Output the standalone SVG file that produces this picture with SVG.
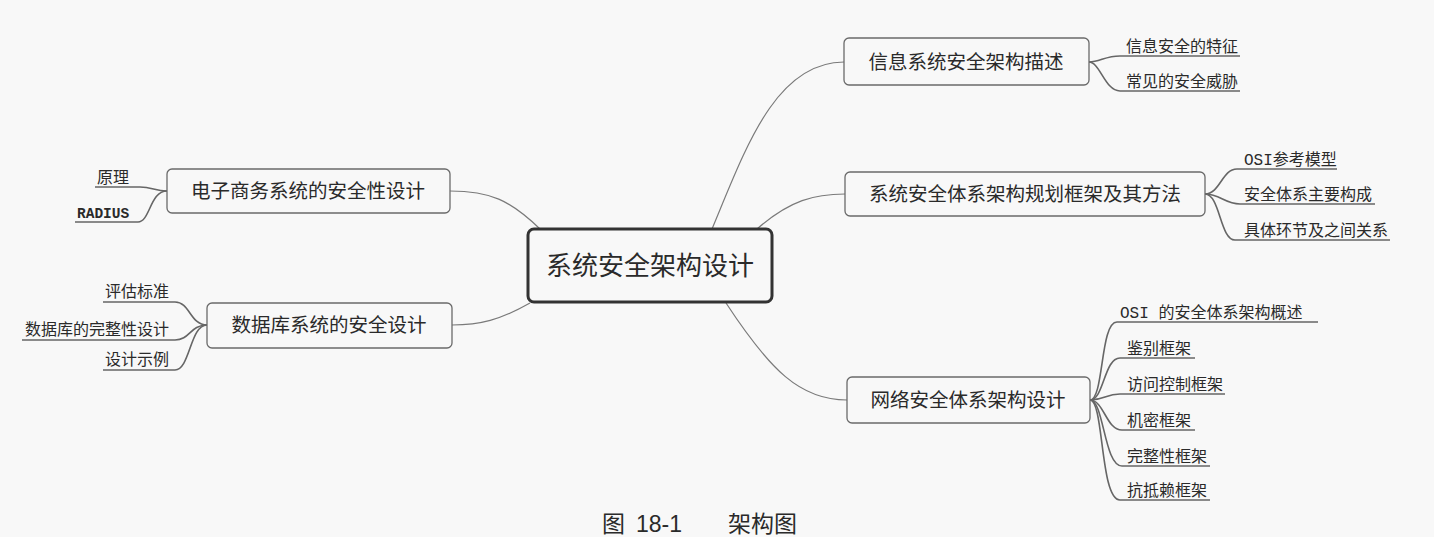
<svg xmlns="http://www.w3.org/2000/svg" width="1434" height="537" viewBox="0 0 1434 537">
<style>
.bg{fill:#f8f8f8}
.box{fill:#f8f8f8;stroke:#6a6a6a;stroke-width:1.3}
.root{fill:#f8f8f8;stroke:#333;stroke-width:3}
.t{font-family:"Noto Sans CJK SC","Liberation Sans",sans-serif;fill:#2a2a2a}
.main{font-size:19.5px;text-anchor:middle}
.rootT{font-size:26px;text-anchor:middle}
.leaf{font-family:"Liberation Mono","Noto Sans CJK SC",monospace;font-size:16px;fill:#2a2a2a}
.c{fill:none;stroke:#7a7a7a;stroke-width:1.2}
.u{fill:none;stroke:#666;stroke-width:1.6}
</style>
<rect class="bg" x="0" y="0" width="1434" height="537"/>
<g id="connectors">
  <path class="c" d="M712 229 C745 150 775 62 844 62"/>
  <path class="c" d="M757 229 C790 200 815 194 845 194"/>
  <path class="c" d="M726 303 C770 370 800 400 847 400"/>
  <path class="c" d="M540 229 C510 200 490 191 450 191"/>
  <path class="c" d="M530 303 C500 320 480 325 452 325"/>
  <path class="u" d="M1089 62 C1100 62 1105 56 1120 56 L1240 56"/>
  <path class="u" d="M1089 62 C1100 62 1105 91 1120 91 L1240 91"/>
  <path class="u" d="M1205 194 C1220 194 1222 169 1237 169 L1337 169"/>
  <path class="u" d="M1205 194 C1220 194 1225 204 1240 204 L1375 204"/>
  <path class="u" d="M1205 194 C1220 194 1220 240 1235 240 L1390 240"/>
  <path class="u" d="M1090 400 C1104 400 1100 322 1117 322 L1318 322"/>
  <path class="u" d="M1090 400 C1104 400 1104 358 1120 358 L1195 358"/>
  <path class="u" d="M1090 400 C1104 400 1106 394 1120 394 L1225 394"/>
  <path class="u" d="M1090 400 C1104 400 1106 430 1122 430 L1195 430"/>
  <path class="u" d="M1090 400 C1104 400 1104 466 1122 466 L1210 466"/>
  <path class="u" d="M1090 400 C1104 400 1100 500 1120 500 L1210 500"/>
  <path class="u" d="M167 191 C155 191 152 187 140 187 L95 187"/>
  <path class="u" d="M167 191 C150 191 150 222 138 222 L75 222"/>
  <path class="u" d="M207 325 C190 325 190 302 175 302 L103 302"/>
  <path class="u" d="M207 325 C190 325 190 340 175 340 L22 340"/>
  <path class="u" d="M207 325 C190 325 190 370 175 370 L103 370"/>
</g>
<g id="root">
  <rect class="root" x="528" y="229" width="244" height="73" rx="6"/>
  <text class="t rootT" x="650" y="275">系统安全架构设计</text>
</g>
<g id="n-info">
  <rect class="box" x="844" y="38" width="245" height="47" rx="5"/>
  <text class="t main" x="966" y="69">信息系统安全架构描述</text>
</g>
<g id="n-plan">
  <rect class="box" x="845" y="172" width="360" height="44" rx="5"/>
  <text class="t main" x="1025" y="201">系统安全体系架构规划框架及其方法</text>
</g>
<g id="n-net">
  <rect class="box" x="847" y="377" width="243" height="46" rx="5"/>
  <text class="t main" x="968" y="407">网络安全体系架构设计</text>
</g>
<g id="n-ec">
  <rect class="box" x="167" y="169" width="283" height="44" rx="5"/>
  <text class="t main" x="308" y="198">电子商务系统的安全性设计</text>
</g>
<g id="n-db">
  <rect class="box" x="207" y="303" width="245" height="45" rx="5"/>
  <text class="t main" x="329" y="332">数据库系统的安全设计</text>
</g>
<g id="leaves">
  <text class="leaf" x="1126" y="52">信息安全的特征</text>
  <text class="leaf" x="1126" y="87">常见的安全威胁</text>
  <text class="leaf" x="1244" y="165">OSI参考模型</text>
  <text class="leaf" x="1244" y="200">安全体系主要构成</text>
  <text class="leaf" x="1244" y="236">具体环节及之间关系</text>
  <text class="leaf" x="1120" y="318">OSI 的安全体系架构概述</text>
  <text class="leaf" x="1127" y="354">鉴别框架</text>
  <text class="leaf" x="1127" y="390">访问控制框架</text>
  <text class="leaf" x="1127" y="426">机密框架</text>
  <text class="leaf" x="1127" y="462">完整性框架</text>
  <text class="leaf" x="1127" y="496">抗抵赖框架</text>
  <text class="leaf" x="97" y="183">原理</text>
  <text class="leaf" x="77" y="218" style="font-size:14.5px;font-weight:bold">RADIUS</text>
  <text class="leaf" x="105" y="297">评估标准</text>
  <text class="leaf" x="25" y="335">数据库的完整性设计</text>
  <text class="leaf" x="105" y="365">设计示例</text>
</g>
<text id="caption" class="t" x="602" y="532" style="font-size:23px">图<tspan x="636" font-family="Liberation Sans">18-1</tspan><tspan x="728">架构图</tspan></text>
</svg>
